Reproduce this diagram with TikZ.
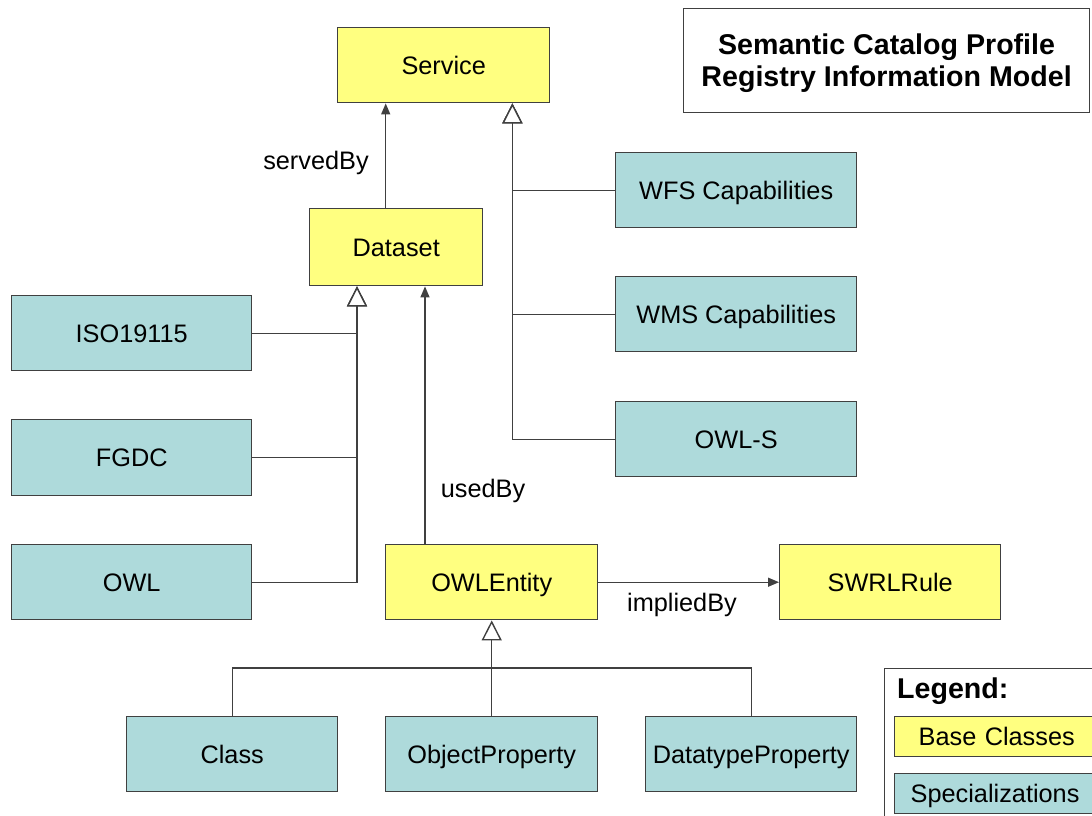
\documentclass[tikz,border=0pt]{standalone}
\usepackage{fontspec}
\setmainfont{Liberation Sans}
\usetikzlibrary{arrows.meta}
\definecolor{baseyellow}{HTML}{FFFF80}
\definecolor{specteal}{HTML}{AEDADB}
\definecolor{edgegray}{HTML}{404040}
\tikzset{
  box/.style={draw=edgegray, line width=1.4pt, inner sep=0pt, anchor=north west,
    font=\fontsize{25.3}{30}\selectfont, text height=18pt, text depth=0pt},
  base/.style={box, fill=baseyellow},
  spec/.style={box, fill=specteal},
  lbl/.style={font=\fontsize{25.3}{30}\selectfont, inner sep=0pt},
  wire/.style={draw=edgegray, line width=1.4pt},
  assoc/.style={wire, -{Triangle[width=9pt,length=11pt]}},
  gen/.style={wire, -{Triangle[open, width=20pt, length=20pt, fill=white]}},
}
\begin{document}
\begin{tikzpicture}[x=1pt,y=-1pt]
\useasboundingbox (0,0) rectangle (1092,815);
\clip (0,0) rectangle (1092,815);

% title
\node[draw=edgegray, line width=1.2pt, anchor=north west, minimum width=406pt, minimum height=104pt,
  align=center, font=\bfseries\fontsize{28.6}{32}\selectfont, inner sep=0pt] (title) at (683,8)
  {\rule{0pt}{26pt}Semantic Catalog Profile\\Registry Information Model};

% base classes
\node[base, minimum width=212pt, minimum height=75pt] (service)  at (337,27)  {Service};
\node[base, minimum width=173pt, minimum height=77pt] (dataset)  at (309,208) {Dataset};
\node[base, minimum width=212pt, minimum height=75pt] (owlent)   at (385,544) {OWLEntity};
\node[base, minimum width=221pt, minimum height=75pt] (swrl)     at (779,544) {SWRLRule};

% specializations
\node[spec, minimum width=240pt, minimum height=75pt] (iso)  at (11,295) {ISO19115};
\node[spec, minimum width=240pt, minimum height=76pt] (fgdc) at (11,419) {FGDC};
\node[spec, minimum width=240pt, minimum height=75pt] (owl)  at (11,544) {OWL};
\node[spec, minimum width=241pt, minimum height=75pt] (wfs)  at (615,152) {WFS Capabilities};
\node[spec, minimum width=241pt, minimum height=75pt] (wms)  at (615,276) {WMS Capabilities};
\node[spec, minimum width=241pt, minimum height=75pt] (owls) at (615,401) {OWL-S};
\node[spec, minimum width=211pt, minimum height=75pt] (cls)  at (126,716) {Class};
\node[spec, minimum width=212pt, minimum height=75pt] (objp) at (385,716) {ObjectProperty};
\node[spec, minimum width=211pt, minimum height=75pt] (dtp)  at (645,716) {DatatypeProperty};

% associations
\draw[assoc] ([xshift=-10.5pt]dataset.north) -- ([xshift=-10.5pt]dataset.north |- service.south);
\node[lbl] (servedby) at (316,163) {servedBy};
\draw[assoc] ([xshift=40pt]owlent.north west) -- ([xshift=40pt]owlent.north west |- dataset.south);
\node[lbl] (usedby) at (483,491) {usedBy};
\draw[assoc] (owlent.east) -- (swrl.west);
\node[lbl] (impliedby) at (682,605) {impliedBy};

% generalizations to Service
\coordinate (svcbus) at ([xshift=-38pt]service.south east);
\draw[gen] (wfs.west) -| (svcbus);
\draw[gen] (wms.west) -| (svcbus);
\draw[gen] (owls.west) -| (svcbus);

% generalizations to Dataset
\coordinate (dsbus) at ([xshift=48pt]dataset.south west);
\draw[gen] (iso.east) -| (dsbus);
\draw[gen] (fgdc.east) -| (dsbus);
\draw[gen] (owl.east) -| (dsbus);

% generalizations to OWLEntity
\coordinate (entbus) at (491,668);
\draw[wire] (cls.north) |- (entbus);
\draw[wire] (dtp.north) |- (entbus);
\draw[gen] (objp.north) -- (owlent.south);

% legend
\node[draw=edgegray, line width=1.2pt, anchor=north west, minimum width=230pt, minimum height=160pt,
  inner sep=0pt] (legend) at (884,668) {};
\node[font=\bfseries\fontsize{28.6}{32}\selectfont, anchor=west, inner sep=0pt] (legtitle) at (897,691) {Legend:};
\node[base, minimum width=220pt, minimum height=40pt, text width=200pt, align=left] (legbase) at (894,716)
  {\hspace*{14pt}Base Classes};
\node[spec, minimum width=220pt, minimum height=40pt, text width=200pt, align=left] (legspec) at (894,773)
  {\hspace*{6pt}Specializations};
\end{tikzpicture}
\end{document}
